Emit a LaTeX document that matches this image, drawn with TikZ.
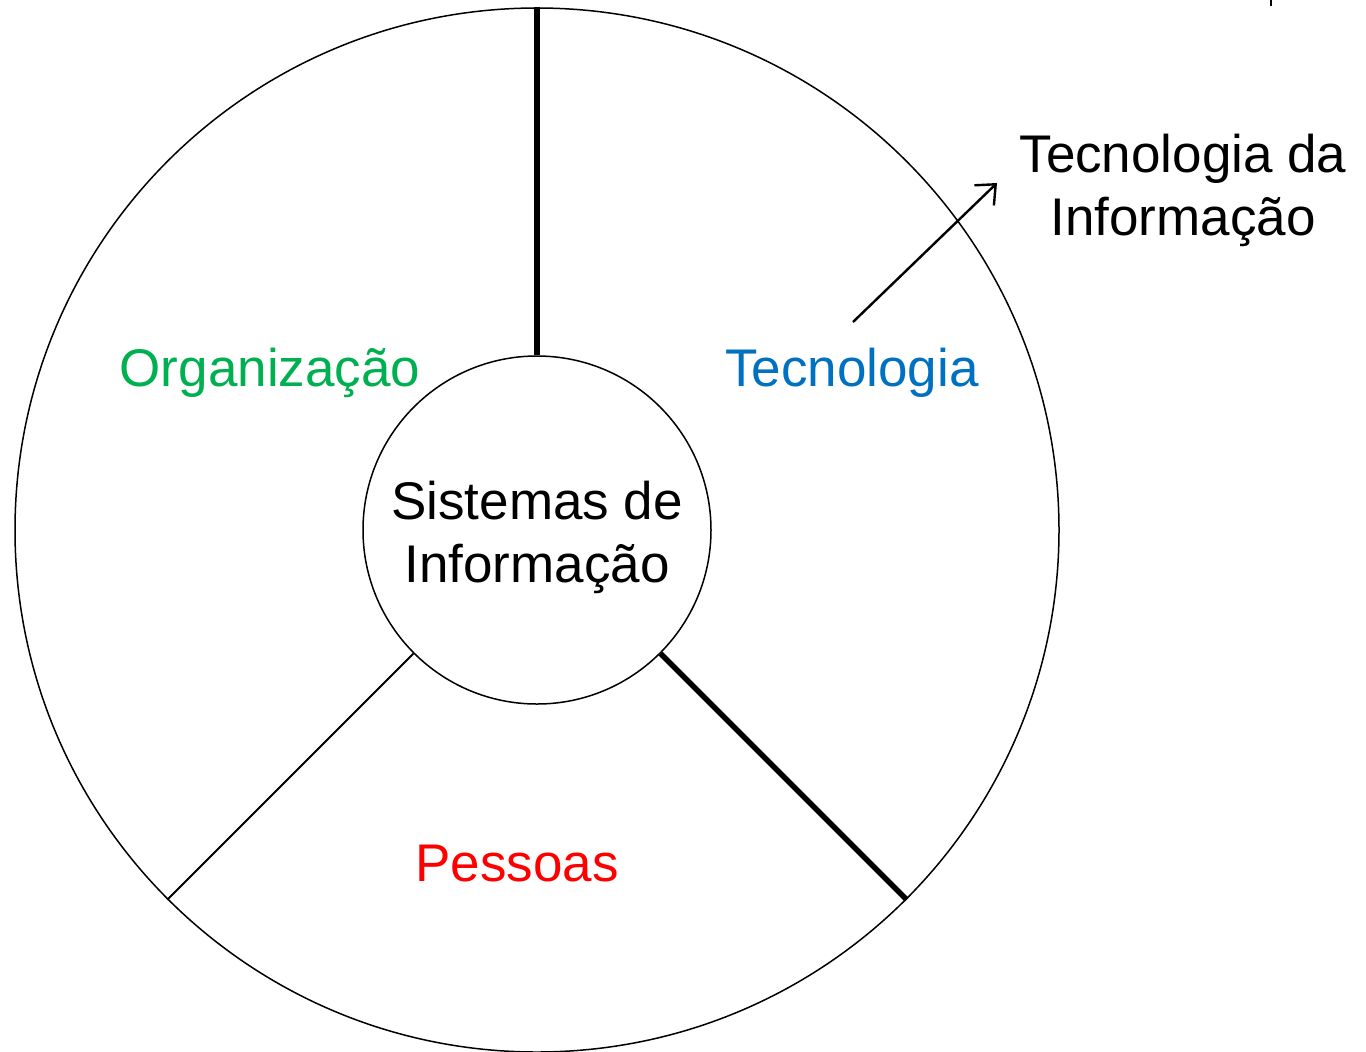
\documentclass[tikz,border=0pt]{standalone}
\usepackage{fontspec}
\setmainfont{Liberation Sans}
\usetikzlibrary{arrows.meta}

\definecolor{orggreen}{HTML}{00B050}
\definecolor{tecblue}{HTML}{0070C0}
\definecolor{pesred}{HTML}{FF0000}

\begin{document}
\begin{tikzpicture}[x=0.5pt,y=-0.5pt,
  ring/.style={draw,circle,inner sep=0pt,line width=0.75pt},
  label/.style={font=\fontsize{26.5}{31.5}\selectfont,align=center,inner sep=0pt},
  thickline/.style={line width=2.8pt},
  thinline/.style={line width=1pt}]
\useasboundingbox (0,0) rectangle (1366,1051);

\node[ring,minimum size=522pt] (outer) at (537,530) {};
\node[ring,minimum size=174pt] (si) at (537,530) {};
\node[label] (sitext) at (537,537) {Sistemas de\\Informação};

\draw[thickline] (si.90) -- (outer.90);
\draw[thickline] (si.-45) -- (outer.-45);
\draw[thinline] (si.-135) -- (outer.-135);

\node[label,text=orggreen] (org) at (270,373) {Organização};
\node[label,text=tecblue] (tec) at (852,373) {Tecnologia};
\node[label,text=pesred] (pes) at (517,864) {Pessoas};
\node[label] (ti) at (1183,190) {Tecnologia da\\Informação};

\coordinate (arrstart) at (853,322);
\coordinate (arrend) at (997,183);
\draw[line width=1.2pt,-{Straight Barb[length=8pt,width=14pt]}] (arrstart) -- (arrend);

% stray tick at the top edge
\coordinate (ticktop) at (1271,0);
\coordinate (tickbot) at (1271,6);
\draw[line width=1pt] (ticktop) -- (tickbot);
\end{tikzpicture}
\end{document}
